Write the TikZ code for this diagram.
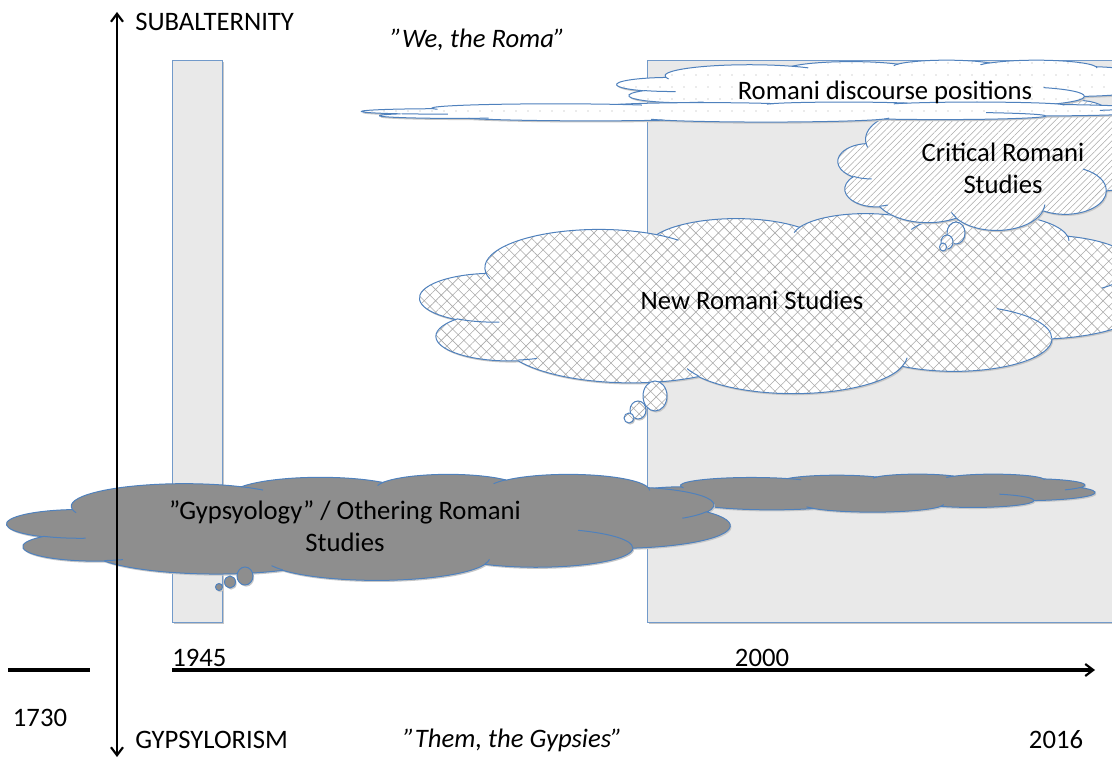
\documentclass[tikz,border=0pt]{standalone}
\usepackage{fontspec}
\setmainfont{Carlito}
\usetikzlibrary{arrows.meta,patterns.meta}
\definecolor{puffblue}{RGB}{79,129,189}
\definecolor{periodfill}{RGB}{233,233,233}
\definecolor{othergrey}{RGB}{142,142,142}
\definecolor{patgrey}{RGB}{170,170,170}
\tikzset{
  axis/.style={line width=2pt, draw=black},
  barb/.tip={Straight Barb[length=6pt,width=9pt,line width=1.6pt]},
  softshadow/.style={preaction={fill=black!22, transform canvas={xshift=0.9pt,yshift=-1.2pt}}},
  period/.style={draw=puffblue!80, line width=0.5pt, fill=periodfill, softshadow},
  puffline/.style={draw=puffblue, line width=0.75pt},
  dotcloud/.style={puffline, softshadow, preaction={fill=white},
    pattern={Dots[radius=0.45pt, distance=9pt]}, pattern color=patgrey},
  linecloud/.style={puffline, softshadow, preaction={fill=white},
    pattern={Lines[angle=45, distance=3.4pt, line width=0.4pt]}, pattern color=patgrey},
  brickcloud/.style={puffline, softshadow, preaction={fill=white},
    pattern={Hatch[angle=45, distance=6pt, line width=0.45pt]}, pattern color=patgrey},
  greycloud/.style={puffline, softshadow, fill=othergrey},
  tag/.style={font=\fontsize{20}{24}\selectfont, inner sep=0pt, align=center},
  quote/.style={tag, font=\fontsize{20}{24}\selectfont\itshape}
}
% cloud outline in a 432 x 432 box, stretched to the box given in pixels
\newcommand{\romcloud}[5]{%
  \pgfmathsetmacro{\cloudsx}{#3/576}%
  \pgfmathsetmacro{\cloudsy}{#4/576}%
  \begin{scope}[shift={(#1,#2)}, x=\cloudsx pt, y=-\cloudsy pt]
    \path[#5] (39,143.7)
      \foreach \w/\h/\s/\d in {67.53/91.90/-190.487/123.781, 53.33/72.67/-144.102/89.945,
          43.65/59.45/-145.808/99.723, 48.57/65.95/-130.986/117.242,
          53.33/72.73/-78.709/109.027, 67.75/92.20/-46.267/130.269,
          57.85/78.67/0.625/114.033, 67.52/92.15/22.452/115.173,
          77.20/105.43/66.243/75.711, 43.60/59.18/-274.942/146.736,
          43.45/59.45/-246.829/152.519}
        { arc[x radius=\w, y radius=\h, start angle={atan2(\w*sin(\s),\h*cos(\s))},
          delta angle={mod(atan2(\w*sin(\s+\d),\h*cos(\s+\d))-atan2(\w*sin(\s),\h*cos(\s))+720,360)}] }
      -- cycle;
    \foreach \mx/\my/\w/\h/\s/\d in {46.93/261.77/43.45/59.45/86.742/26.430,
        69.28/348.99/43.60/59.18/73.610/11.447, 164.78/390.90/67.52/92.15/137.624/14.081,
        288.27/347.51/67.52/92.15/6.453/15.998, 341.29/229.54/57.85/78.67/-70.292/70.917,
        417.98/153.54/53.33/72.73/30.318/27.752, 383.24/54.26/48.57/65.95/-13.744/14.859,
        290.78/39.52/48.57/65.95/-149.181/18.195, 221.41/47.20/43.65/59.45/-163.494/17.686,
        140.00/51.92/67.53/91.90/-66.707/12.319, 41.27/157.89/67.53/91.90/157.654/11.858}
      \draw[puffline] (\mx,\my) arc[x radius=\w, y radius=\h, start angle={atan2(\w*sin(\s),\h*cos(\s))},
          delta angle={mod(atan2(\w*sin(\s+\d),\h*cos(\s+\d))-atan2(\w*sin(\s),\h*cos(\s))+720,360)}];
  \end{scope}}
\begin{document}
\begin{tikzpicture}[x=0.75pt, y=-0.75pt]
  \useasboundingbox (0,0) rectangle (1112,759);
  \clip (0,0) rectangle (1112,759);

  % periods
  \node[period, anchor=north west, minimum width=37.5pt, minimum height=421.5pt] (postwar) at (172,60) {};
  \node[period, anchor=north west, minimum width=370pt, minimum height=421.5pt] (recent) at (647,60) {};

  % new romani studies
  \romcloud{420}{213}{730}{180}{brickcloud}
  \path[brickcloud] (655,396) ellipse[x radius=12, y radius=15];
  \path[brickcloud] (638,410) ellipse[x radius=8, y radius=9];
  \path[brickcloud] (629,418) ellipse[x radius=5, y radius=5];
  \node[tag] (newtext) at (752,300) {New Romani Studies};

  % critical romani studies
  \romcloud{838}{100}{310}{130}{linecloud}
  \path[linecloud] (956,233) ellipse[x radius=9, y radius=11];
  \path[linecloud] (947,242) ellipse[x radius=6, y radius=7];
  \path[linecloud] (943,247) ellipse[x radius=3.5, y radius=4];
  \node[tag] (crittext) at (1003,168) {Critical Romani\\Studies};

  % romani discourse positions
  \romcloud{617}{60}{540}{52}{dotcloud}
  \romcloud{362}{102}{790}{20}{dotcloud}
  \node[tag] (voicetext) at (885,92) {Romani discourse positions};

  % othering romani studies
  \romcloud{640}{474}{455}{38}{greycloud}
  \romcloud{7}{474}{723}{106}{greycloud}
  \path[greycloud] (245,576) ellipse[x radius=8, y radius=9];
  \path[greycloud] (230,582) ellipse[x radius=5.5, y radius=6];
  \path[greycloud] (219,587) ellipse[x radius=3.5, y radius=3.5];
  \node[tag] (othertext) at (345,526) {”Gypsyology” / Othering Romani\\Studies};

  % axes
  \coordinate (vtop) at (117,12);
  \coordinate (vbot) at (117,757);
  \coordinate (hstart) at (8,670);
  \coordinate (hcut) at (90,670);
  \coordinate (tstart) at (172,670);
  \coordinate (tend) at (1095,670);
  \draw[axis, barb-barb] (vtop) -- (vbot);
  \draw[axis, line width=2.4pt] (hstart) -- (hcut);
  \draw[axis, line width=2.4pt, -barb] (tstart) -- (tend);

  % axis texts
  \node[tag, anchor=west] (subalt) at (135,22) {SUBALTERNITY};
  \node[tag, anchor=west] (gypsyl) at (135,740) {GYPSYLORISM};
  \node[tag] (y1730) at (40,718) {1730};
  \node[tag, anchor=south west] (y1945) at (172,667) {1945};
  \node[tag, anchor=south] (y2000) at (762,667) {2000};
  \node[tag] (y2016) at (1056,740) {2016};
  \node[quote] (them) at (513,740) {”Them, the Gypsies”};
  \node[quote] (we) at (478,40) {”We, the Roma”};
\end{tikzpicture}
\end{document}
